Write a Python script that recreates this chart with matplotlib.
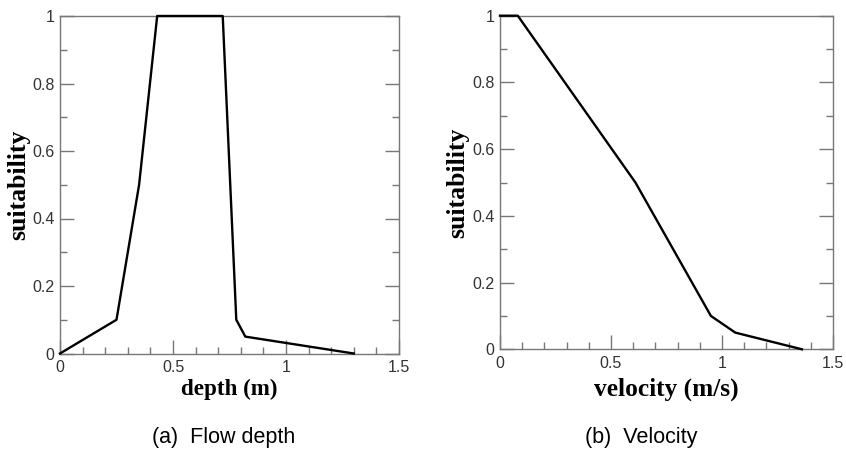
import matplotlib.pyplot as plt
from matplotlib.ticker import MultipleLocator

# depth suitability curve
depth = [0.0, 0.25, 0.35, 0.43, 0.72, 0.78, 0.82, 1.30]
depth_suit = [0.0, 0.10, 0.50, 1.0, 1.0, 0.10, 0.05, 0.0]

# velocity suitability curve
velocity = [0.0, 0.08, 0.61, 0.95, 1.06, 1.36]
vel_suit = [1.0, 1.0, 0.50, 0.10, 0.05, 0.0]

xticks = [0, 0.5, 1, 1.5]
xticklabels = ['0', '0.5', '1', '1.5']
yticks = [0, 0.2, 0.4, 0.6, 0.8, 1]
yticklabels = ['0', '0.2', '0.4', '0.6', '0.8', '1']

W, H = 846, 453
fig = plt.figure(figsize=(W / 100, H / 100), dpi=100)

spine_col = '#777777'
serif = ['Liberation Serif', 'DejaVu Serif']
sans = ['Liberation Sans', 'DejaVu Sans']


def px(x, y):
    # pixel position -> figure fraction
    return x / W, 1 - y / H


def make_axes(rect, x, y, xlabel, xl_size, caption, cap_x, ylab_x):
    l, r, t, b = rect
    ax = fig.add_axes([l / W, 1 - b / H, (r - l) / W, (b - t) / H])
    ax.plot(x, y, color='black', lw=1.7, clip_on=False, zorder=3)
    ax.set_xlim(0, 1.5)
    ax.set_ylim(0, 1)
    ax.xaxis.set_minor_locator(MultipleLocator(0.1))
    ax.yaxis.set_minor_locator(MultipleLocator(0.1))
    ax.set_xticks(xticks)
    ax.set_xticklabels(xticklabels, family=sans, fontsize=11.5, color='#333333')
    ax.set_yticks(yticks)
    ax.set_yticklabels(yticklabels, family=sans, fontsize=11.5, color='#333333')
    ax.tick_params(which='both', direction='in', right=True, top=False,
                   color=spine_col, width=1.0)
    ax.tick_params(which='major', length=10)
    ax.tick_params(which='minor', length=5)
    ax.tick_params(axis='x', which='major', pad=5)
    ax.tick_params(axis='y', which='major', pad=4)
    for s in ax.spines.values():
        s.set_color(spine_col)
        s.set_linewidth(1.0)
    cx = (l + r) / 2
    fig.text(*px(cx, 389), xlabel, family=serif, fontweight='bold',
             fontsize=xl_size, ha='center', va='center')
    fig.text(*px(ylab_x, (t + b) / 2), 'suitability', family=serif,
             fontweight='bold', fontsize=18.5, rotation=90, ha='center', va='center')
    fig.text(*px(cap_x, 438), caption, family=sans, fontsize=15.5,
             ha='center', va='center')
    return ax


make_axes((60, 399, 16, 353.5), depth, depth_suit, 'depth (m)', 16.6,
          '(a)  Flow depth', 224, 19)
make_axes((500, 833, 15.7, 349.3), velocity, vel_suit, 'velocity (m/s)', 18.3,
          '(b)  Velocity', 641, 458)

fig.savefig('out.png', dpi=100)
